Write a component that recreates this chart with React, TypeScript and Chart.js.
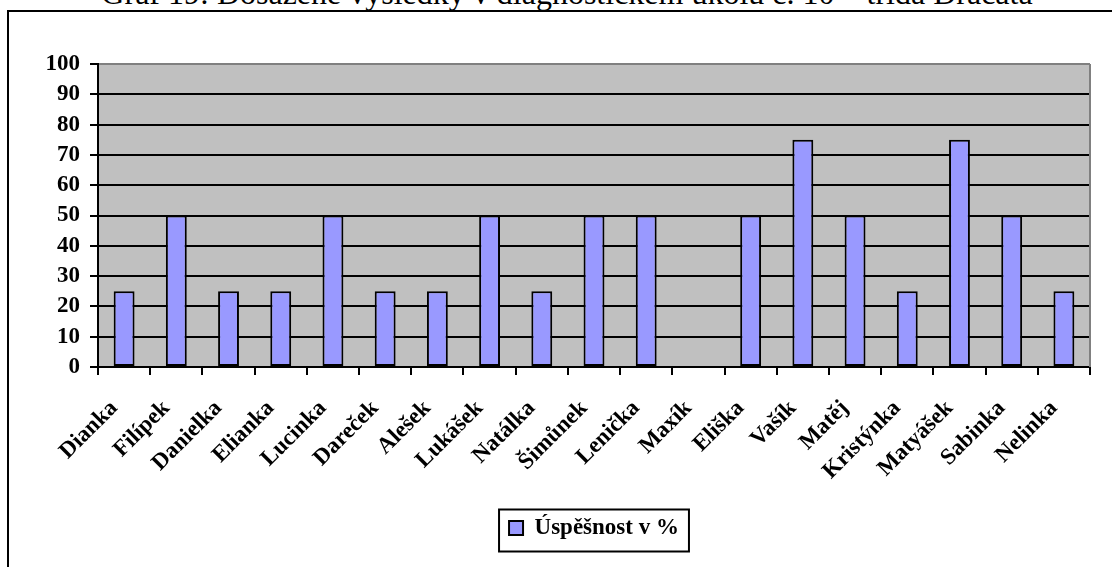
import React, { useEffect, useRef } from 'react';
import { Chart, registerables } from 'chart.js';

Chart.register(...registerables);

const TITLE = 'Graf 19: Dosažené výsledky v diagnostickém úkolu č. 10 – třída Dráčata';
const CATEGORIES = [
  'Dianka', 'Filípek', 'Danielka', 'Elianka', 'Lucinka', 'Dareček', 'Alešek', 'Lukášek',
  'Natálka', 'Šimůnek', 'Lenička', 'Maxík', 'Eliška', 'Vašík', 'Matěj', 'Kristýnka',
  'Matyášek', 'Sabinka', 'Nelinka',
];
const SERIES_LABEL = 'Úspěšnost v %';
const VALUES = [25, 50, 25, 25, 50, 25, 25, 50, 25, 50, 50, 0, 50, 75, 50, 25, 75, 50, 25];
const Y_MIN = 0;
const Y_MAX = 100;
const Y_STEP = 10;

const FONT = 'Liberation Serif, Times New Roman, serif';

const framePlugin = {
  id: 'framePlugin',
  beforeDraw(chart: any) {
    const { ctx, chartArea: a } = chart;
    ctx.save();
    ctx.fillStyle = '#C0C0C0';
    ctx.fillRect(a.left, a.top, a.right - a.left, a.bottom - a.top);
    ctx.restore();
  },
  afterDraw(chart: any) {
    const { ctx, chartArea: a } = chart;
    ctx.save();
    ctx.strokeStyle = '#808080';
    ctx.lineWidth = 2;
    ctx.beginPath();
    ctx.moveTo(a.right, a.top);
    ctx.lineTo(a.right, a.bottom);
    ctx.stroke();
    const hb = chart.legend && chart.legend.legendHitBoxes && chart.legend.legendHitBoxes[0];
    if (hb) {
      ctx.strokeStyle = '#000';
      ctx.lineWidth = 2;
      ctx.strokeRect(hb.left - 10, hb.top - 7, hb.width + 20, hb.height + 19);
    }
    ctx.restore();
  },
};

export default function App() {
  const ref = useRef<HTMLCanvasElement>(null);

  useEffect(() => {
    const chart = new Chart(ref.current as HTMLCanvasElement, {
      type: 'bar',
      data: {
        labels: CATEGORIES,
        datasets: [
          {
            label: SERIES_LABEL,
            data: VALUES,
            backgroundColor: '#9999FF',
            borderColor: '#000000',
            borderWidth: 2,
            borderSkipped: false,
            barPercentage: 0.4,
            categoryPercentage: 1,
          },
        ],
      },
      options: {
        animation: false,
        responsive: false,
        devicePixelRatio: 1,
        layout: { padding: { left: 0, right: 22, top: 64, bottom: 17.5 } },
        plugins: {
          legend: {
            position: 'bottom',
            fullSize: false,
            labels: {
              boxWidth: 14,
              boxHeight: 14,
              padding: 10,
              color: '#000',
              font: { family: FONT, size: 23, weight: 'bold' },
            },
          },
          tooltip: { enabled: false },
          title: { display: false },
        },
        scales: {
          x: {
            grid: {
              display: true,
              drawOnChartArea: false,
              drawTicks: true,
              tickLength: 8,
              offset: true,
              color: '#000',
              lineWidth: 2,
            },
            border: { display: true, color: '#000', width: 2 },
            ticks: {
              autoSkip: false,
              maxRotation: 45,
              minRotation: 45,
              color: '#000',
              padding: 20,
              labelOffset: -10,
              font: { family: FONT, size: 23, weight: 'bold' },
            },
            afterFit: (s: any) => {
              s.height = 139.5;
            },
          },
          y: {
            min: Y_MIN,
            max: Y_MAX,
            ticks: {
              stepSize: Y_STEP,
              autoSkip: false,
              color: '#000',
              padding: 10,
              font: { family: FONT, size: 23, weight: 'bold' },
            },
            grid: {
              color: (c: any) => (c.tick && c.tick.value === Y_MAX ? '#808080' : '#000'),
              lineWidth: 2,
              tickLength: 8,
              tickColor: '#000',
              tickWidth: 2,
            },
            border: { color: '#000', width: 2 },
            afterFit: (s: any) => {
              s.width = 98;
            },
          },
        },
      },
      plugins: [framePlugin],
    } as any);
    return () => chart.destroy();
  }, []);

  return (
    <div
      style={{
        position: 'absolute',
        left: 0,
        top: 0,
        width: 1112,
        height: 567,
        overflow: 'hidden',
        background: '#fff',
      }}
    >
      <div
        style={{
          position: 'absolute',
          left: 7,
          top: 10,
          width: 1300,
          height: 800,
          border: '2px solid #000',
          boxSizing: 'border-box',
        }}
      />
      <div
        style={{
          position: 'absolute',
          left: 0,
          top: -23,
          width: 1134,
          textAlign: 'center',
          whiteSpace: 'nowrap',
          fontFamily: FONT,
          fontSize: 32,
          lineHeight: '32px',
          color: '#000',
        }}
      >
        {TITLE}
      </div>
      <canvas
        ref={ref}
        width={1112}
        height={567}
        style={{ position: 'absolute', left: 0, top: 0, width: 1112, height: 567 }}
      />
    </div>
  );
}
